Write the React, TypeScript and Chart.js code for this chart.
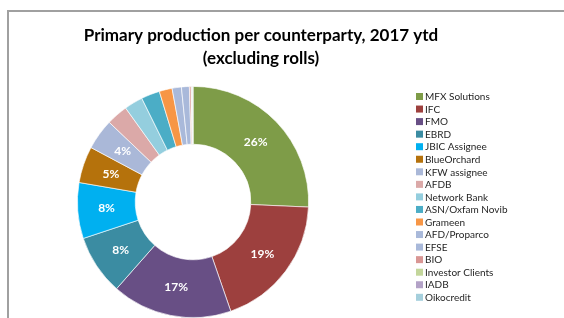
import React, { useEffect, useRef } from "react";
import { Chart, registerables } from "chart.js";

Chart.register(...registerables);

const counterparties = [
  "MFX Solutions",
  "IFC",
  "FMO",
  "EBRD",
  "JBIC Assignee",
  "BlueOrchard",
  "KFW assignee",
  "AFDB",
  "Network Bank",
  "ASN/Oxfam Novib",
  "Grameen",
  "AFD/Proparco",
  "EFSE",
  "BIO",
  "Investor Clients",
  "IADB",
  "Oikocredit",
];

const shares = [25.7, 19.0, 16.8, 8.4, 7.8, 5.1, 4.3, 3.0, 2.6, 2.6, 1.8, 1.3, 1.1, 0.25, 0.1, 0.1, 0.05];

const sliceColors = [
  "#7E9C48",
  "#9D403E",
  "#684F85",
  "#3B8CA2",
  "#00B0F0",
  "#B5720C",
  "#AAB8D8",
  "#DBA9A8",
  "#94CEDE",
  "#4BADC6",
  "#F79646",
  "#A9B9DA",
  "#A9B9DA",
  "#D99694",
  "#C3D69B",
  "#B3A2C7",
  "#A5CFDC",
];

const titleLines = ["Primary production per counterparty, 2017 ytd", "(excluding rolls)"];

const FONT = "Lato, 'Open Sans', 'DejaVu Sans', sans-serif";

const framePlugin = {
  id: "frame",
  beforeDraw(chart: any) {
    const ctx = chart.ctx;
    ctx.save();
    ctx.fillStyle = "#ffffff";
    ctx.fillRect(0, 0, chart.width, chart.height);
    ctx.fillStyle = "#A0A0A0";
    ctx.fillRect(7, 10, chart.width - 7, 2);
    ctx.fillRect(7, 10, 2, chart.height - 10);
    ctx.restore();
  },
};

const titlePlugin = {
  id: "customTitle",
  afterDraw(chart: any) {
    const ctx = chart.ctx;
    ctx.save();
    ctx.fillStyle = "#000000";
    ctx.font = `bold 17px ${FONT}`;
    ctx.textAlign = "center";
    ctx.textBaseline = "middle";
    ctx.fillText(titleLines[0], 261, 36);
    ctx.fillText(titleLines[1], 261, 59);
    ctx.restore();
  },
};

const legendPlugin = {
  id: "customLegend",
  afterDraw(chart: any) {
    const ctx = chart.ctx;
    const labels = chart.data.labels as string[];
    const colors = chart.data.datasets[0].backgroundColor as string[];
    ctx.save();
    ctx.font = `10px ${FONT}`;
    ctx.textAlign = "left";
    ctx.textBaseline = "middle";
    labels.forEach((lab, i) => {
      const y = 96.5 + i * 12.55;
      ctx.fillStyle = colors[i];
      ctx.fillRect(416, y - 3.5, 7, 7);
      ctx.fillStyle = "#1f1f1f";
      ctx.fillText(lab, 425, y + 0.5);
    });
    ctx.restore();
  },
};

const pctLabelPlugin = {
  id: "pctLabels",
  afterDatasetsDraw(chart: any) {
    const ctx = chart.ctx;
    const meta = chart.getDatasetMeta(0);
    const data = chart.data.datasets[0].data as number[];
    const total = data.reduce((a, b) => a + b, 0);
    ctx.save();
    ctx.fillStyle = "#ffffff";
    ctx.font = `bold 12px ${FONT}`;
    ctx.textAlign = "center";
    ctx.textBaseline = "middle";
    meta.data.forEach((arc: any, i: number) => {
      const pct = (data[i] / total) * 100;
      if (pct < 3.5) return;
      const p = arc.tooltipPosition();
      ctx.fillText(`${Math.round(pct)}%`, p.x, p.y);
    });
    ctx.restore();
  },
};

export default function App() {
  const canvasRef = useRef<HTMLCanvasElement | null>(null);

  useEffect(() => {
    if (!canvasRef.current) return;
    const chart = new Chart(canvasRef.current, {
      type: "doughnut",
      data: {
        labels: counterparties,
        datasets: [
          {
            data: shares,
            backgroundColor: sliceColors,
            borderColor: "rgba(255,255,255,0.8)",
            borderWidth: 0.8,
          },
        ],
      },
      options: {
        responsive: false,
        animation: false,
        cutout: "50%",
        layout: { padding: { left: 77, right: 255, top: 86, bottom: 0 } },
        plugins: {
          legend: { display: false },
          title: { display: false },
          tooltip: { enabled: false },
        },
      },
      plugins: [framePlugin, titlePlugin, legendPlugin, pctLabelPlugin],
    });
    return () => chart.destroy();
  }, []);

  return (
    <div style={{ position: "fixed", left: 0, top: 0, width: 564, height: 318, background: "#fff" }}>
      <canvas ref={canvasRef} width={564} height={318} style={{ display: "block" }} />
    </div>
  );
}
